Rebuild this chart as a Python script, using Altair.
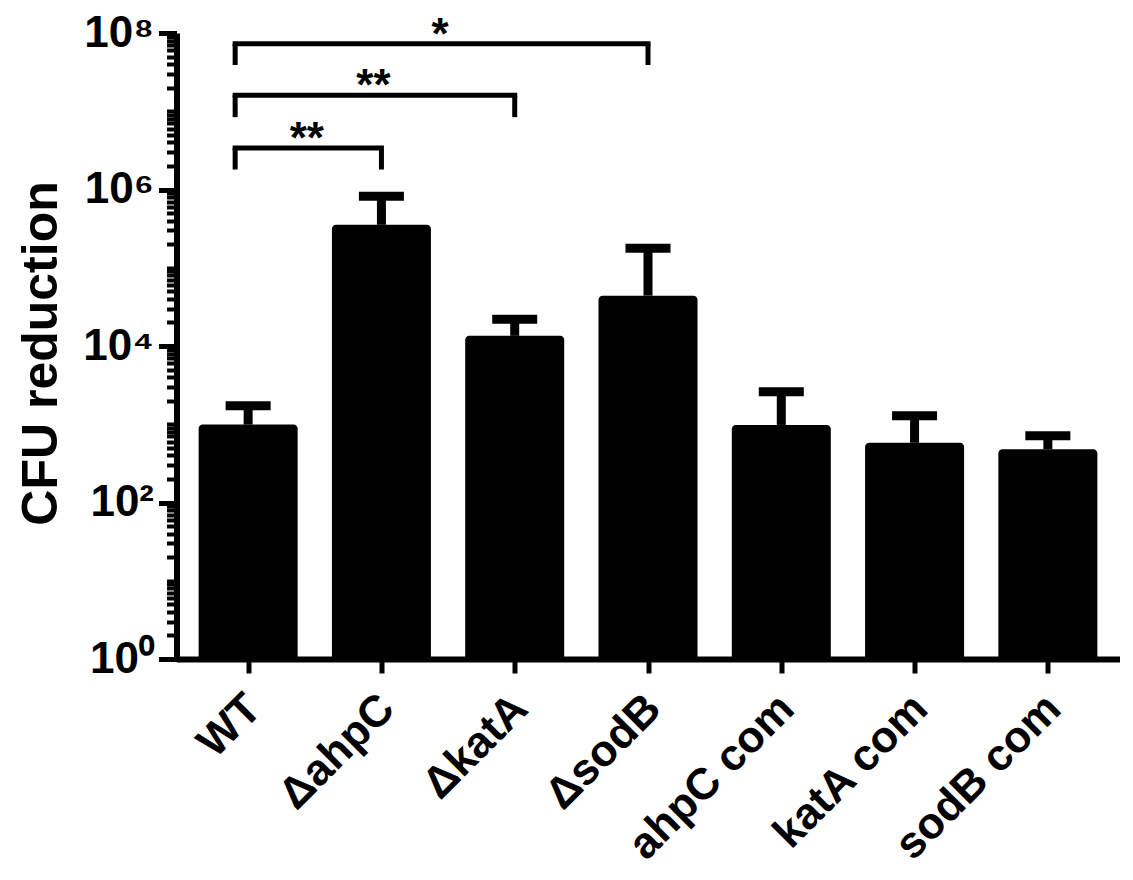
import altair as alt
import pandas as pd

# ---- data ----
categories = ["WT", "ΔahpC", "ΔkatA", "ΔsodB", "ahpC com", "katA com", "sodB com"]
cfu_mean = [990, 354000, 13500, 44000, 980, 580, 480]
cfu_upper = [1720, 820000, 21900, 177000, 2600, 1280, 715]

sig_start = ["WT", "WT", "WT"]
sig_end = ["ΔahpC", "ΔkatA", "ΔsodB"]
sig_level = [3.4e6, 1.6e7, 7.3e7]
sig_leg = [1.8e6, 8.4e6, 3.9e7]
sig_label = ["**", "**", "*"]

y_major = [1, 100, 10000, 1000000, 100000000]
y_major_labels = ["10⁰", "10²", "10⁴", "10⁶", "10⁸"]
y_ticks = [m * 10 ** d for d in range(8) for m in range(1, 10)] + [10 ** 8]

FONT = "Liberation Sans"

df = pd.DataFrame({
    "idx": list(range(len(categories))),
    "group": categories,
    "mean": cfu_mean,
    "upper": cfu_upper,
})
bdf = pd.DataFrame({
    "i0": [categories.index(s) for s in sig_start],
    "i1": [categories.index(e) for e in sig_end],
    "level": sig_level,
    "leg": sig_leg,
    "label": sig_label,
})

x_label_expr = "[" + ",".join("'%s'" % c for c in categories) + "][round(datum.value)]"
y_label_expr = "".join("datum.value == %d ? '%s' : " % (v, l) for v, l in zip(y_major, y_major_labels)) + "''"
major_test = " || ".join("datum.value == %d" % v for v in y_major)

xscale = alt.Scale(domain=[-0.5, len(categories) - 0.5], nice=False, zero=False)
yscale = alt.Scale(type="log", domain=[1, 1e8], nice=False)

x_axis = alt.Axis(
    values=list(range(len(categories))),
    labelExpr=x_label_expr,
    labelAngle=315,
    labelAlign="right",
    labelBaseline="top",
    labelFont=FONT,
    labelFontSize=44,
    labelFontWeight="bold",
    labelColor="black",
    labelPadding=13,
    labelOffset=-10,
    labelOverlap=False,
    labelLimit=600,
    tickSize=14,
    tickWidth=5,
    tickColor="black",
    domainColor="black",
    domainWidth=6,
    grid=False,
    title=None,
)

y_axis = alt.Axis(
    values=y_ticks,
    labelExpr=y_label_expr,
    labelFont=FONT,
    labelFontSize=44,
    labelFontWeight="bold",
    labelColor="black",
    labelPadding=5,
    labelOverlap=False,
    labelFlush=False,
    labelLimit=400,
    tickColor="black",
    tickSize={"condition": {"test": major_test, "value": 18}, "value": 10},
    tickWidth={"condition": {"test": major_test, "value": 5}, "value": 4},
    domainColor="black",
    domainWidth=6,
    grid=False,
    title="CFU reduction",
    titleFont=FONT,
    titleFontSize=50,
    titleFontWeight="bold",
    titleColor="black",
    titleAngle=270,
    titleBaseline="alphabetic",
    titleX=-120,
    titleY=320,
)

base = alt.Chart(df)

bars = base.mark_bar(
    size=99, color="black", cornerRadiusTopLeft=4, cornerRadiusTopRight=4
).encode(
    x=alt.X("idx:Q", scale=xscale, axis=x_axis),
    y=alt.Y("mean:Q", scale=yscale, axis=y_axis),
    y2=alt.datum(1),
)

stem = base.mark_rule(color="black", strokeWidth=9).encode(
    x=alt.X("idx:Q"),
    y=alt.Y("mean:Q"),
    y2="upper:Q",
)

cap = base.mark_tick(orient="horizontal", color="black", size=45, thickness=9, opacity=1).encode(
    x=alt.X("idx:Q"),
    y=alt.Y("upper:Q"),
)

bbase = alt.Chart(bdf)

hline = bbase.mark_rule(color="black", strokeWidth=5, strokeCap="square", xOffset=-13).encode(
    x=alt.X("i0:Q"),
    x2="i1:Q",
    y=alt.Y("level:Q"),
)

left_leg = bbase.mark_rule(color="black", strokeWidth=5, xOffset=-13).encode(
    x=alt.X("i0:Q"),
    y=alt.Y("level:Q"),
    y2="leg:Q",
)

right_leg = bbase.mark_rule(color="black", strokeWidth=5).encode(
    x=alt.X("i1:Q"),
    y=alt.Y("level:Q"),
    y2="leg:Q",
)

stars = bbase.transform_calculate(mid="(datum.i0 + datum.i1) / 2").mark_text(
    font=FONT, fontSize=44, fontWeight="bold", color="black",
    baseline="alphabetic", align="center", dy=5, xOffset=-8,
).encode(
    x=alt.X("mid:Q"),
    y=alt.Y("level:Q"),
    text="label:N",
)

chart = alt.layer(bars, stem, cap, hline, left_leg, right_leg, stars).properties(
    width=943,
    height=626,
    autosize=alt.AutoSizeParams(type="none"),
    padding={"left": 168.5, "top": 25, "right": 0, "bottom": 212},
).configure(background="white").configure_view(stroke=None)

chart.save("out.html", embed_options={"renderer": "svg", "actions": False})
